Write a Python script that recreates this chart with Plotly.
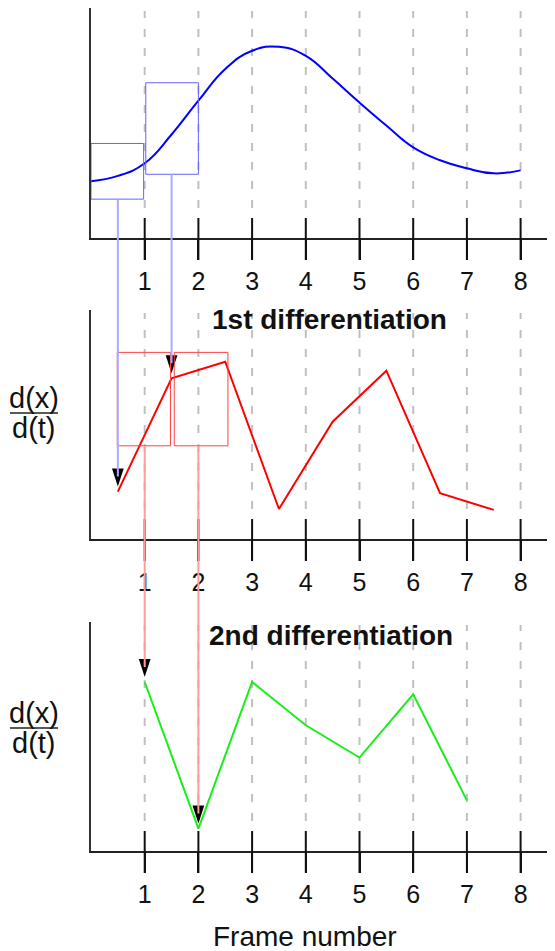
import plotly.graph_objects as go

# frame ticks
frames = [1, 2, 3, 4, 5, 6, 7, 8]

# original signal (smooth curve)
pos_x = [0, 0.5, 1, 1.5, 2, 2.5, 3, 3.5, 4, 4.5, 5, 5.5, 6, 6.5, 7, 7.5, 8]
pos_y = [2.47, 2.70, 3.25, 4.50, 5.97, 7.35, 8.14, 8.31, 7.92, 6.93, 5.89, 4.89, 3.94, 3.38, 3.03, 2.81, 2.94]

# 1st differentiation (between frames)
d1_x = [0.5, 1.5, 2.5, 3.5, 4.5, 5.5, 6.5, 7.5]
d1_y = [2.07, 7.02, 7.74, 1.31, 5.12, 7.35, 2.00, 1.27]

# 2nd differentiation
d2_x = [1, 2, 3, 4, 5, 6, 7]
d2_y = [7.38, 0.98, 7.38, 5.49, 4.08, 6.84, 2.21]

# highlight boxes: [x0, x1, y0, y1]
blue_boxes = [[0.0, 0.98, 1.69, 4.11], [1.02, 2.0, 2.77, 6.75]]
red_boxes = [[0.49, 1.48, 4.07, 8.15], [1.55, 2.55, 4.07, 8.15]]

# the page body adds an 8px margin, so the figure is a bit smaller than the window
OFF = 8
W, H = 555 - OFF, 951 - OFF
L = 83
PW = W - L
FONT = "Liberation Sans, Arial, sans-serif"
INK = "#111111"


def fy(py):
    # window pixel row -> paper fraction
    return min(1.0, max(0.0, 1 - (py - OFF) / H))


def fx(px):
    # window pixel column -> paper fraction
    return (px - OFF - L) / PW


# panel domains from the pixel rows of each panel (axis line, top of y axis)
domains = {
    1: [fy(238), fy(8)],
    2: [fy(539), fy(310)],
    3: [fy(851), fy(622)],
}
YMAX = 10


def to_paper(row, v):
    d0, d1 = domains[row]
    return d0 + v / YMAX * (d1 - d0)


fig = go.Figure()

fig.add_trace(go.Scatter(x=pos_x, y=pos_y, mode='lines', line=dict(color='#0000ff', width=2, shape='spline', smoothing=1.3),
                         xaxis='x', yaxis='y', hoverinfo='skip'))
fig.add_trace(go.Scatter(x=d1_x, y=d1_y, mode='lines', line=dict(color='#ff0000', width=2),
                         xaxis='x2', yaxis='y2', hoverinfo='skip'))
fig.add_trace(go.Scatter(x=d2_x, y=d2_y, mode='lines', line=dict(color='#1aee1a', width=2),
                         xaxis='x3', yaxis='y3', hoverinfo='skip'))

shapes = []

# dashed guides and crossing ticks for each panel
for row in (1, 2, 3):
    xr = 'x' if row == 1 else f'x{row}'
    yd = ('y' if row == 1 else f'y{row}') + ' domain'
    hpx = (domains[row][1] - domains[row][0]) * H
    for f in frames:
        shapes.append(dict(type='line', xref=xr, yref=yd, ysizemode='pixel', yanchor=0,
                           x0=f, x1=f, y0=30, y1=hpx - 3,
                           line=dict(color='#c0c0c0', width=2, dash='8px,11px'), layer='below'))
        shapes.append(dict(type='line', xref=xr, yref=yd, ysizemode='pixel', yanchor=0,
                           x0=f, x1=f, y0=-22, y1=20, line=dict(color=INK, width=2)))

# boxes
for b in blue_boxes:
    shapes.append(dict(type='rect', xref='x', yref='paper', x0=b[0], x1=b[1],
                       y0=to_paper(1, b[2]), y1=to_paper(1, b[3]), line=dict(color='#6464ff', width=1)))
for b in red_boxes:
    shapes.append(dict(type='rect', xref='x2', yref='paper', x0=b[0], x1=b[1],
                       y0=to_paper(2, b[2]), y1=to_paper(2, b[3]), line=dict(color='#ff4040', width=1)))

# connectors from boxes down to the next panel
STAND = 5
links = [
    (d1_x[0], to_paper(1, blue_boxes[0][2]), to_paper(2, d1_y[0]), '#aaaaff'),
    (d1_x[1], to_paper(1, blue_boxes[1][2]), to_paper(2, d1_y[1]), '#aaaaff'),
    (d2_x[0], to_paper(2, red_boxes[0][2]), to_paper(3, d2_y[0]), '#ff9c9c'),
    (d2_x[1], to_paper(2, red_boxes[1][2]), to_paper(3, d2_y[1]), '#ff9c9c'),
]
for x, ytop, ybot, col in links:
    shapes.append(dict(type='line', xref='x', yref='paper', x0=x, x1=x, y0=ytop,
                       y1=ybot + (STAND + 10) / H, line=dict(color=col, width=2)))

# arrow heads
arrow_marker = dict(symbol='arrow', angle=180, size=19, color='black', standoff=STAND, line=dict(width=0))
fig.add_trace(go.Scatter(x=d1_x[:2], y=d1_y[:2], mode='markers', xaxis='x2', yaxis='y2',
                         marker=arrow_marker, cliponaxis=False, hoverinfo='skip'))
fig.add_trace(go.Scatter(x=d2_x[:2], y=d2_y[:2], mode='markers', xaxis='x3', yaxis='y3',
                         marker=arrow_marker, cliponaxis=False, hoverinfo='skip'))

# d(x)/d(t) fraction labels
annotations = []
for yline in (413, 728):
    yp = fy(yline)
    shapes.append(dict(type='line', xref='paper', yref='paper', x0=fx(10), x1=fx(58), y0=yp, y1=yp,
                       line=dict(color='#222222', width=1.5)))
    annotations.append(dict(text='d(x)', xref='paper', yref='paper', x=fx(34), y=yp, xanchor='center',
                            yanchor='bottom', showarrow=False, yshift=-3, font=dict(family=FONT, size=29, color=INK)))
    annotations.append(dict(text='d(t)', xref='paper', yref='paper', x=fx(34), y=yp, xanchor='center',
                            yanchor='top', showarrow=False, yshift=3, font=dict(family=FONT, size=29, color=INK)))

annotations.append(dict(text='<b>1st differentiation</b>', xref='paper', yref='paper', x=fx(329), xanchor='center',
                        y=fy(320), yanchor='middle', showarrow=False, font=dict(family=FONT, size=28, color=INK)))
annotations.append(dict(text='<b>2nd differentiation</b>', xref='paper', yref='paper', x=fx(331), xanchor='center',
                        y=fy(635), yanchor='middle', showarrow=False, font=dict(family=FONT, size=28, color=INK)))
annotations.append(dict(text='Frame number', xref='paper', yref='paper', x=fx(305), xanchor='center',
                        y=fy(936), yanchor='middle', showarrow=False, font=dict(family=FONT, size=28, color=INK)))

xaxis_style = dict(range=[0, PW / 53.7], showline=True, linecolor='#222222', linewidth=2,
                   ticks='outside', ticklen=20, tickwidth=2, tickcolor=INK, tickvals=frames,
                   tickfont=dict(family=FONT, size=25, color=INK), showgrid=False, zeroline=False,
                   fixedrange=True, automargin=False)
yaxis_style = dict(range=[0, YMAX], showline=True, linecolor='#333333', linewidth=2, showticklabels=False,
                   ticks='', showgrid=False, zeroline=False, fixedrange=True, automargin=False)

fig.update_layout(
    width=W, height=H,
    margin=dict(l=L, r=0, t=0, b=0),
    paper_bgcolor='white', plot_bgcolor='white',
    showlegend=False,
    xaxis=dict(**xaxis_style, anchor='y'),
    xaxis2=dict(**xaxis_style, anchor='y2'),
    xaxis3=dict(**xaxis_style, anchor='y3'),
    yaxis=dict(**yaxis_style, domain=domains[1], anchor='x'),
    yaxis2=dict(**yaxis_style, domain=domains[2], anchor='x2'),
    yaxis3=dict(**yaxis_style, domain=domains[3], anchor='x3'),
    shapes=shapes,
    annotations=annotations,
)

fig.write_html("out.html")
